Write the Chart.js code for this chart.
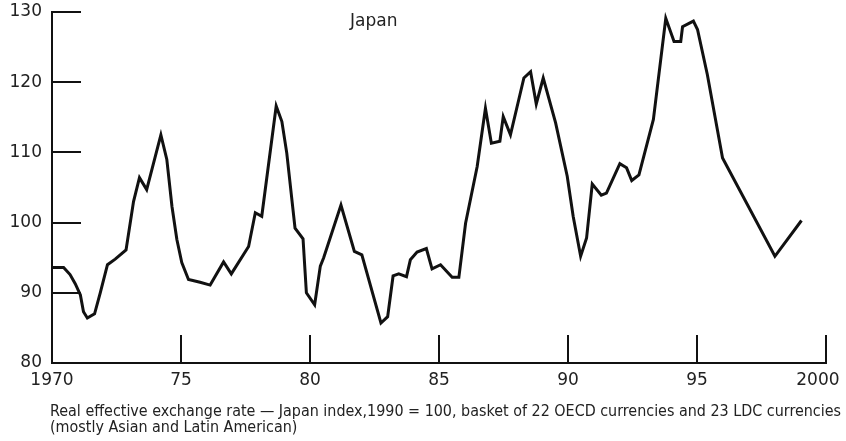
<!DOCTYPE html>
<html>
<head>
<meta charset="utf-8">
<script src="https://cdn.jsdelivr.net/npm/chart.js@4.4.1/dist/chart.umd.min.js"></script>
<style>
  html, body { margin: 0; padding: 0; background: #fff; }
  #wrap { position: relative; width: 846px; height: 441px; overflow: hidden; }
  #chart { position: absolute; left: 0; top: 0; }
  #title { position: absolute; left: 350px; top: 12px; font: 17px "DejaVu Sans", sans-serif; line-height: 17px; color: #222; }
  #caption { position: absolute; left: 50px; top: 403px; font: 15px "DejaVu Sans Condensed", "DejaVu Sans", sans-serif; line-height: 16px; color: #222; white-space: nowrap; transform-origin: 0 0; }
</style>
</head>
<body>
<div id="wrap">
  <canvas id="chart" width="846" height="441"></canvas>
  <div id="title">Japan</div>
  <div id="caption"><span id="cap1">Real effective exchange rate — Japan index,1990 = 100, basket of 22 OECD currencies and 23 LDC currencies</span><br>(mostly Asian and Latin American)</div>
</div>
<script>
// real effective exchange rate
const years = [
  1970.0, 1970.45, 1970.7, 1970.9, 1971.1, 1971.22, 1971.37, 1971.65, 1971.87,
  1972.15, 1972.45, 1972.87, 1973.16, 1973.39, 1973.67, 1974.22, 1974.45, 1974.65,
  1974.84, 1975.03, 1975.29, 1975.74, 1976.13, 1976.65, 1976.95, 1977.62, 1977.88,
  1978.13, 1978.69, 1978.91, 1979.1, 1979.42, 1979.73, 1979.86, 1980.18, 1980.4,
  1980.53, 1981.2, 1981.72, 1982.01, 1982.75, 1983.01, 1983.22, 1983.44, 1983.74,
  1983.89, 1984.15, 1984.51, 1984.73, 1985.06, 1985.51, 1985.77, 1986.03, 1986.48,
  1986.8, 1987.03, 1987.36, 1987.49, 1987.77, 1988.29, 1988.55, 1988.77, 1989.04,
  1989.52, 1989.97, 1990.2, 1990.49, 1990.72, 1990.94, 1991.29, 1991.49, 1992.01,
  1992.27, 1992.47, 1992.75, 1993.31, 1993.79, 1994.11, 1994.37, 1994.44, 1994.86,
  1995.02, 1995.4, 1995.99, 1998.02, 1999.05
];
const rate = [
  93.6, 93.6, 92.6, 91.3, 89.7, 87.3, 86.4, 87.0, 90.0,
  94.0, 94.8, 96.1, 103.0, 106.4, 104.7, 112.5, 109.0, 102.3,
  97.6, 94.3, 91.9, 91.5, 91.1, 94.4, 92.7, 96.6, 101.4,
  100.9, 116.6, 114.4, 109.9, 99.2, 97.7, 90.0, 88.3, 93.8,
  95.0, 102.5, 95.9, 95.4, 85.7, 86.6, 92.4, 92.7, 92.3,
  94.7, 95.8, 96.3, 93.4, 94.0, 92.2, 92.2, 99.9, 108.0,
  116.3, 111.3, 111.6, 115.1, 112.5, 120.6, 121.5, 116.9, 120.6,
  114.2, 106.6, 100.9, 95.2, 97.8, 105.5, 103.9, 104.2, 108.4,
  107.8, 106.0, 106.8, 114.7, 129.1, 125.8, 125.8, 127.9, 128.7,
  127.5, 121.1, 109.2, 95.2, 100.3
];
const xTickLabels = ['1970', '75', '80', '85', '90', '95', '2000'];
const yTicks = [80, 90, 100, 110, 120, 130];

// short tick marks pointing into the plot
const innerTicks = {
  id: 'innerTicks',
  afterDraw(chart) {
    const { ctx, scales: { x, y } } = chart;
    ctx.save();
    ctx.strokeStyle = '#111';
    ctx.lineWidth = 2;
    ctx.beginPath();
    y.ticks.forEach(t => {
      if (t.value === y.min) return;
      const py = Math.round(y.getPixelForValue(t.value));
      ctx.moveTo(x.left, py);
      ctx.lineTo(x.left + 29, py);
    });
    x.ticks.forEach(t => {
      if (t.value === x.min) return;
      const px = Math.round(x.getPixelForValue(t.value));
      ctx.moveTo(px, y.bottom);
      ctx.lineTo(px, y.bottom - 28);
    });
    ctx.stroke();
    ctx.restore();
  }
};

new Chart(document.getElementById('chart'), {
  type: 'line',
  data: {
    datasets: [{
      data: years.map((yr, i) => ({ x: yr, y: rate[i] })),
      borderColor: '#111',
      borderWidth: 3,
      pointRadius: 0,
      tension: 0,
      borderJoinStyle: 'miter',
      fill: false
    }]
  },
  options: {
    responsive: false,
    animation: false,
    layout: { padding: { top: 12, right: 20, left: 0, bottom: 0 } },
    plugins: { legend: { display: false }, tooltip: { enabled: false } },
    scales: {
      x: {
        type: 'linear',
        min: 1970,
        max: 2000,
        grid: { display: false, drawTicks: false },
        border: { display: true, color: '#111', width: 2 },
        ticks: {
          stepSize: 5,
          padding: 7,
          maxRotation: 0,
          color: '#222',
          font: { family: 'DejaVu Sans', size: 17 },
          // last label sits a little left of its tick in the original
          callback: (v, i) => i === xTickLabels.length - 1 ? xTickLabels[i] + '   ' : xTickLabels[i]
        },
        afterFit: s => {
          s.height = 78;
          s.paddingLeft = 0;
          s.paddingRight = 0;
        }
      },
      y: {
        min: 80,
        max: 130,
        grid: { display: false, drawTicks: false },
        border: { display: true, color: '#111', width: 2 },
        afterBuildTicks: s => { s.ticks = yTicks.map(v => ({ value: v })); },
        ticks: {
          padding: 10,
          color: '#222',
          font: { family: 'DejaVu Sans', size: 17 }
        },
        afterFit: s => {
          s.width = 52;
          s.paddingTop = 0;
          s.paddingBottom = 0;
        }
      }
    }
  },
  plugins: [innerTicks]
});

// stretch the caption to the width it has in the picture
const cap = document.getElementById('caption');
const w = document.getElementById('cap1').getBoundingClientRect().width;
cap.style.transform = 'scaleX(' + (791 / w) + ')';
</script>
</body>
</html>
